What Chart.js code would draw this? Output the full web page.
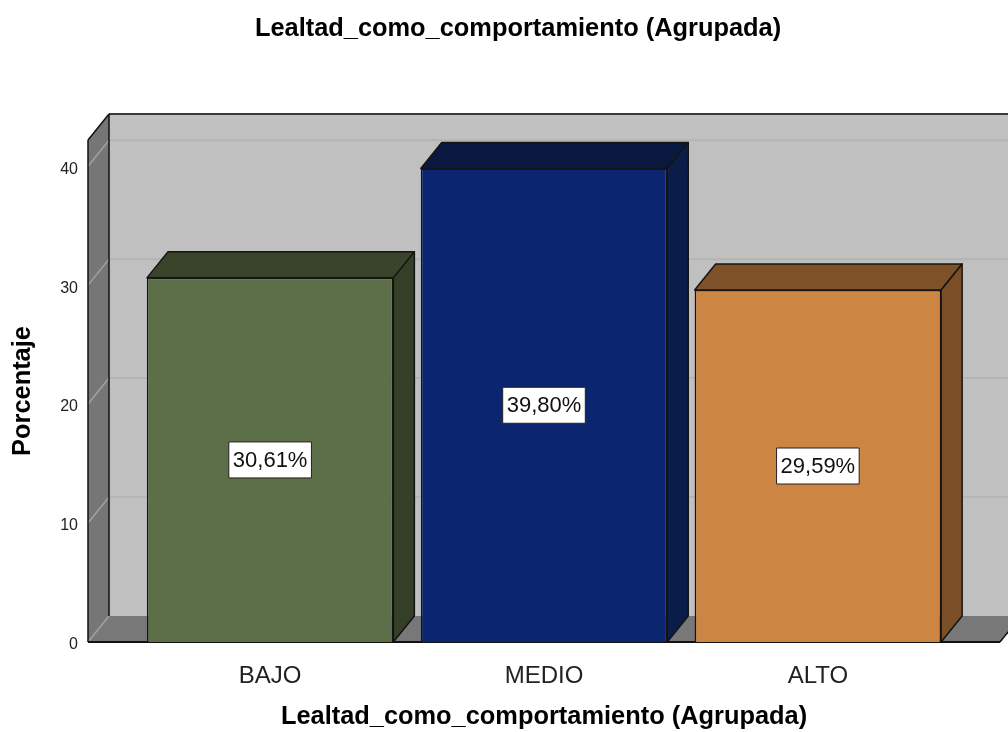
<!DOCTYPE html>
<html>
<head>
<meta charset="utf-8">
<title>Lealtad_como_comportamiento (Agrupada)</title>
<script src="https://cdn.jsdelivr.net/npm/chart.js@4.4.1/dist/chart.umd.min.js"></script>
<style>
  html, body { margin: 0; padding: 0; background: #fff; }
  canvas { display: block; }
</style>
</head>
<body>
<canvas id="grafico" width="1008" height="732"></canvas>
<script>
const titulo = "Lealtad_como_comportamiento (Agrupada)";
const categorias = ["BAJO", "MEDIO", "ALTO"];
const porcentajes = [30.61, 39.80, 29.59];
const marcasY = [0, 10, 20, 30, 40];

const coloresFrente = ["#5c6f48", "#0b2570", "#cc8542"];
const coloresTapa = ["#39442a", "#08183f", "#7e5129"];
const coloresLado = ["#343f27", "#0a1c48", "#7a4e27"];

// desplazamiento de la profundidad 3D
const DX = 21;
const DY = -26;
const FUENTE = "'Liberation Sans', Arial, sans-serif";

const poligono = (ctx, puntos, relleno, trazo) => {
  ctx.beginPath();
  puntos.forEach(([px, py], i) => (i ? ctx.lineTo(px, py) : ctx.moveTo(px, py)));
  ctx.closePath();
  if (relleno) {
    ctx.fillStyle = relleno;
    ctx.fill();
  }
  if (trazo) {
    ctx.strokeStyle = trazo;
    ctx.stroke();
  }
};

const linea = (ctx, x1, y1, x2, y2, color, ancho) => {
  ctx.beginPath();
  ctx.moveTo(x1, y1);
  ctx.lineTo(x2, y2);
  ctx.strokeStyle = color;
  ctx.lineWidth = ancho;
  ctx.stroke();
};

const caja3d = {
  id: "caja3d",
  beforeDatasetsDraw(chart) {
    const { ctx, chartArea: a, scales } = chart;
    const y = scales.y;
    ctx.save();

    // pared del fondo, pared izquierda y piso
    ctx.fillStyle = "#c0c0c0";
    ctx.fillRect(a.left + DX, a.top + DY, a.right - a.left, a.bottom - a.top);
    poligono(ctx, [[a.left, a.top], [a.left + DX, a.top + DY], [a.left + DX, a.bottom + DY], [a.left, a.bottom]], "#767676");
    poligono(ctx, [[a.left, a.bottom], [a.right, a.bottom], [a.right + DX, a.bottom + DY], [a.left + DX, a.bottom + DY]], "#787878");

    // líneas de cuadrícula
    marcasY.forEach((v) => {
      const py = y.getPixelForValue(v);
      if (v > 0) linea(ctx, a.left + DX, py + DY, a.right + DX, py + DY, "#b4b4b4", 2);
      linea(ctx, a.left, py, a.left + DX, py + DY, "#a2a2a2", 1.5);
    });

    // bordes
    linea(ctx, a.left + DX, a.top + DY, a.right + DX, a.top + DY, "#3a3a3a", 2);
    linea(ctx, a.left, a.top, a.left + DX, a.top + DY, "#111", 1.5);
    linea(ctx, a.left, a.top, a.left, a.bottom, "#111", 1.5);
    linea(ctx, a.left + DX, a.top + DY, a.left + DX, a.bottom + DY, "#111", 1.5);
    linea(ctx, a.left, a.bottom, a.right, a.bottom, "#111", 2);
    linea(ctx, a.right, a.bottom, a.right + DX, a.bottom + DY, "#111", 1.5);
    ctx.restore();
  },
  afterDatasetsDraw(chart) {
    const { ctx, scales } = chart;
    const y = scales.y;
    const barras = chart.getDatasetMeta(0).data;
    ctx.save();
    ctx.lineWidth = 1.5;
    ctx.lineJoin = "round";

    barras.forEach((barra, i) => {
      const x1 = barra.x - barra.width / 2;
      const x2 = barra.x + barra.width / 2;
      const yt = barra.y;
      const yb = barra.base;
      poligono(ctx, [[x1, yt], [x1 + DX, yt + DY], [x2 + DX, yt + DY], [x2, yt]], coloresTapa[i], "#141414");
      poligono(ctx, [[x2, yt], [x2 + DX, yt + DY], [x2 + DX, yb + DY], [x2, yb]], coloresLado[i], "#141414");
    });

    // etiquetas de porcentaje
    ctx.font = "22px " + FUENTE;
    ctx.textAlign = "center";
    ctx.textBaseline = "middle";
    barras.forEach((barra, i) => {
      const v = porcentajes[i];
      const texto = v.toFixed(2).replace(".", ",") + "%";
      const w = ctx.measureText(texto).width + 8;
      const h = 36;
      const cy = y.getPixelForValue(v / 2);
      ctx.fillStyle = "#fff";
      ctx.fillRect(barra.x - w / 2, cy - h / 2, w, h);
      ctx.strokeStyle = "#222";
      ctx.lineWidth = 1;
      ctx.strokeRect(barra.x - w / 2, cy - h / 2, w, h);
      ctx.fillStyle = "#111";
      ctx.fillText(texto, barra.x, cy + 1);
    });

    ctx.font = "bold 25.4px " + FUENTE;
    ctx.fillStyle = "#000";
    ctx.fillText(titulo, 518, 29);
    ctx.restore();
  },
};

new Chart(document.getElementById("grafico"), {
  type: "bar",
  data: {
    datasets: [
      {
        data: porcentajes.map((v, i) => ({ x: i, y: v })),
        backgroundColor: coloresFrente,
        borderColor: "#141414",
        borderWidth: 1.5,
        barPercentage: 0.9,
        categoryPercentage: 1,
        clip: false,
      },
    ],
  },
  options: {
    responsive: false,
    animation: false,
    layout: { padding: { top: 140, right: 8, left: 0, bottom: 0 } },
    plugins: {
      legend: { display: false },
      tooltip: { enabled: false },
    },
    scales: {
      x: {
        type: "linear",
        offset: false,
        min: -0.665,
        max: 2.665,
        afterBuildTicks: (s) => {
          s.ticks = categorias.map((_, i) => ({ value: i }));
        },
        afterFit: (s) => {
          s.height = 90;
        },
        grid: { display: false, drawTicks: false },
        border: { display: false },
        ticks: {
          callback: (v) => categorias[v],
          font: { family: FUENTE, size: 24 },
          color: "#222",
          padding: 20,
        },
        title: {
          display: true,
          text: titulo,
          font: { family: FUENTE, size: 25.4, weight: "bold" },
          color: "#000",
          padding: { top: 0, bottom: 0 },
        },
      },
      y: {
        min: 0,
        max: 42.2,
        afterBuildTicks: (s) => {
          s.ticks = marcasY.map((v) => ({ value: v }));
        },
        afterFit: (s) => {
          s.width = 88;
        },
        grid: { display: false, drawTicks: false },
        border: { display: false },
        ticks: {
          font: { family: FUENTE, size: 16 },
          color: "#222",
          padding: 10,
          labelOffset: 3,
        },
        title: {
          display: true,
          text: "Porcentaje",
          font: { family: FUENTE, size: 25.4, weight: "bold" },
          color: "#000",
          padding: { top: 8, bottom: 0 },
        },
      },
    },
  },
  plugins: [caja3d],
});
</script>
</body>
</html>
